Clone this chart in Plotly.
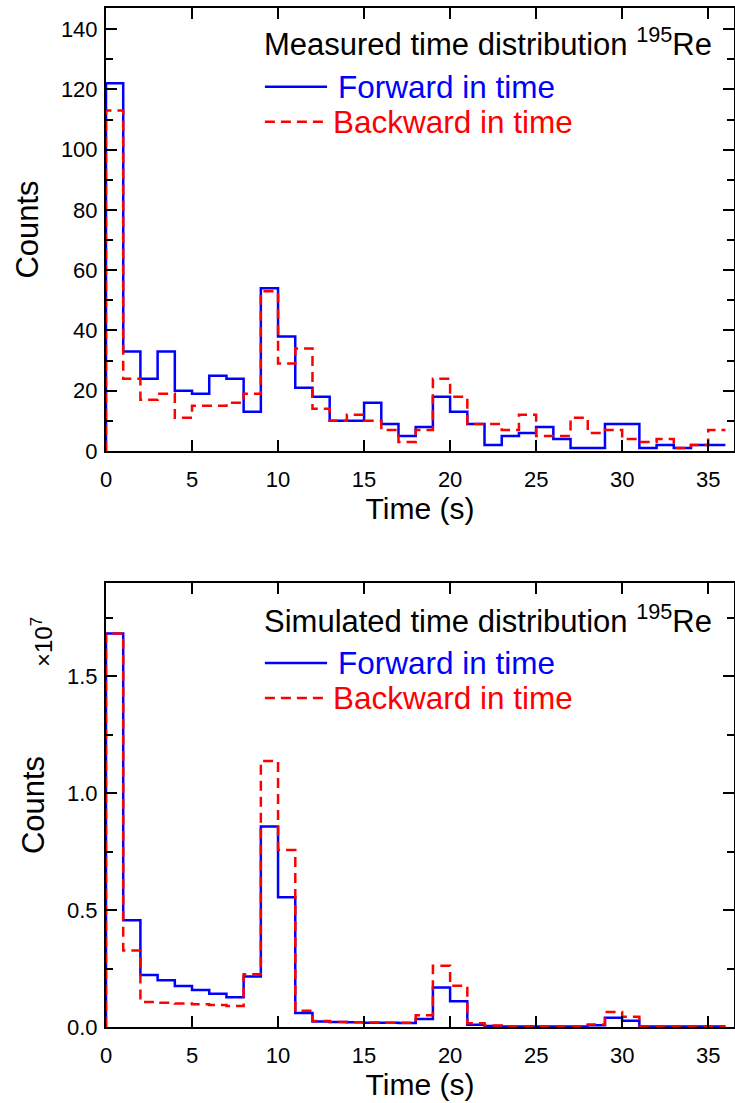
import plotly.graph_objects as go
from plotly.subplots import make_subplots

# ---------------- data ----------------
bin_edges = list(range(0, 37))  # 1 s bins, 0..36 s
meas_forward = [122, 33, 24, 33, 20, 19, 25, 24, 13, 54, 38, 21, 18, 10, 10, 16, 9, 5,
                8, 18, 13, 9, 2, 5, 6, 8, 4, 1, 1, 9, 9, 1, 2, 1, 2, 2]
meas_backward = [113, 24, 17, 19, 11, 15, 15, 16, 19, 53, 29, 34, 14, 10, 12, 10, 7, 3,
                 7, 24, 18, 9, 9, 7, 12, 5, 5, 11, 6, 7, 4, 3, 4, 1, 2, 7]
# simulated counts, in units of 10^7
sim_forward = [1.684, 0.457, 0.223, 0.200, 0.175, 0.158, 0.142, 0.127, 0.216, 0.858,
               0.555, 0.060, 0.024, 0.021, 0.020, 0.018, 0.018, 0.017, 0.034, 0.169,
               0.110, 0.010, 0.004, 0.002, 0.002, 0.002, 0.002, 0.002, 0.007, 0.040,
               0.027, 0.002, 0.002, 0.002, 0.002, 0.002]
sim_backward = [1.684, 0.327, 0.107, 0.104, 0.101, 0.097, 0.094, 0.090, 0.226, 1.138,
                0.757, 0.070, 0.026, 0.021, 0.020, 0.019, 0.018, 0.018, 0.050, 0.262,
                0.176, 0.016, 0.006, 0.003, 0.003, 0.003, 0.003, 0.003, 0.011, 0.064,
                0.044, 0.003, 0.003, 0.003, 0.003, 0.003]

series_names = ["Forward in time", "Backward in time"]
panel_titles = ["Measured time distribution <sup>195</sup>Re",
                "Simulated time distribution <sup>195</sup>Re"]
x_title = "Time (s)"
y_title = "Counts"
x_ticks = [0, 5, 10, 15, 20, 25, 30, 35]
top_y_ticks = [0, 20, 40, 60, 80, 100, 120, 140]
bot_y_ticks = [0.0, 0.5, 1.0, 1.5]
bot_y_ticklabels = ["0.0", "0.5", "1.0", "1.5"]

BLUE = "#0000ff"
RED = "#ff0000"
FONT = "Liberation Sans, Arial, sans-serif"
TICKFONT = "Liberation Sans Narrow, Liberation Sans, Arial, sans-serif"


def step_xy(values):
    xs = [bin_edges[0]] + bin_edges[:-1] + [bin_edges[-1]]
    ys = [0] + list(values) + [values[-1]]
    return xs, ys


W, H = 735, 1103
fig = make_subplots(rows=2, cols=1)

for row, (fwd, bwd) in enumerate([(meas_forward, meas_backward),
                                  (sim_forward, sim_backward)], start=1):
    x, y = step_xy(fwd)
    fig.add_trace(go.Scatter(x=x, y=y, mode="lines", line_shape="hv",
                             line=dict(color=BLUE, width=2.5),
                             name=series_names[0], showlegend=False), row=row, col=1)
    x, y = step_xy(bwd)
    fig.add_trace(go.Scatter(x=x, y=y, mode="lines", line_shape="hv",
                             line=dict(color=RED, width=2.5, dash="10px,6px"),
                             name=series_names[1], showlegend=False), row=row, col=1)

# plot-area pixel boxes
top_box = (8, 451)
bot_box = (583, 1027)
fig.update_layout(
    width=W, height=H,
    margin=dict(l=106, r=1, t=0, b=0, autoexpand=False),
    paper_bgcolor="white", plot_bgcolor="white",
    font=dict(family=FONT, color="black"),
    yaxis=dict(domain=[1 - top_box[1] / H, 1 - top_box[0] / H]),
    yaxis2=dict(domain=[1 - bot_box[1] / H, 1 - bot_box[0] / H]),
)

axis_common = dict(showline=True, linecolor="black", linewidth=2, mirror="allticks",
                   ticks="inside", tickcolor="black", tickwidth=1.5, showgrid=False,
                   zeroline=False, automargin=False,
                   tickfont=dict(family=TICKFONT, size=22, color="black"))

for r in (1, 2):
    fig.update_xaxes(range=[0, 36.5], tickvals=x_ticks, ticklen=11, ticklabelstandoff=8,
                     title=dict(text=x_title, font=dict(family=FONT, size=30), standoff=6),
                     row=r, col=1, **axis_common)

fig.update_yaxes(range=[0, 147], tickvals=top_y_ticks, ticklen=11, ticklabelstandoff=2,
                 minor=dict(dtick=10, ticklen=7, ticks="inside", tickcolor="black", tickwidth=1.5),
                 title=dict(text=y_title, font=dict(family=FONT, size=31), standoff=13),
                 row=1, col=1, **axis_common)
fig.update_yaxes(range=[0, 1.90], tickvals=bot_y_ticks, ticktext=bot_y_ticklabels, ticklen=11,
                 ticklabelstandoff=2,
                 minor=dict(dtick=0.25, ticklen=7, ticks="inside", tickcolor="black", tickwidth=1.5),
                 title=dict(text=y_title, font=dict(family=FONT, size=31), standoff=13),
                 row=2, col=1, **axis_common)

# in-plot legends (title, sample lines, labels)
legend_layout = [
    ("x", "y", panel_titles[0], (0.923, 0.822, 0.743)),
    ("x2", "y2", panel_titles[1], (0.919, 0.820, 0.741)),
]
for xr, yr, title, (yt, yf, yb) in legend_layout:
    xd, yd = xr + " domain", yr + " domain"
    fig.add_annotation(xref=xd, yref=yd, x=0.248, y=yt, xanchor="left", yanchor="middle",
                       text=title, showarrow=False, font=dict(family=FONT, size=31, color="black"))
    fig.add_shape(type="line", xref=xd, yref=yd, x0=0.253, x1=0.352, y0=yf, y1=yf,
                  line=dict(color=BLUE, width=2.5))
    fig.add_shape(type="line", xref=xd, yref=yd, x0=0.253, x1=0.352, y0=yb, y1=yb,
                  line=dict(color=RED, width=2.5, dash="10px,6px"))
    fig.add_annotation(xref=xd, yref=yd, x=0.366, y=yf, xanchor="left", yanchor="middle",
                       text=series_names[0], showarrow=False,
                       font=dict(family=FONT, size=31.5, color=BLUE))
    fig.add_annotation(xref=xd, yref=yd, x=0.358, y=yb, xanchor="left", yanchor="middle",
                       text=series_names[1], showarrow=False,
                       font=dict(family=FONT, size=31.5, color=RED))

# exponent label for the simulated panel (rotated, left of the axis)
fig.add_annotation(xref="paper", yref="paper", x=(42 - 106) / 628, y=1 - 642 / H,
                   xanchor="center", yanchor="middle", text="×10<sup>7</sup>", textangle=-90,
                   showarrow=False, font=dict(family=FONT, size=24, color="black"))

fig.write_html("out.html", config={"displayModeBar": False},
               post_script="document.body.style.margin='0';document.body.style.padding='0';")
